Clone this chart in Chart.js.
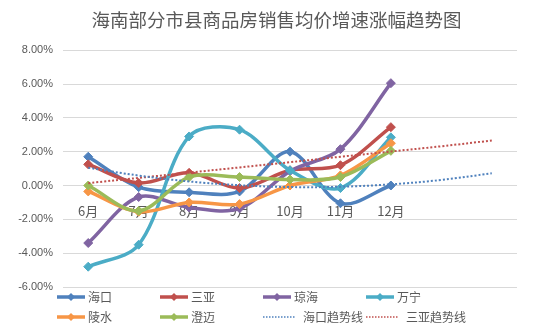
<!DOCTYPE html>
<html>
<head>
<meta charset="utf-8">
<script src="https://cdn.jsdelivr.net/npm/chart.js@4.4.1/dist/chart.umd.min.js"></script>
<style>
  html, body { margin: 0; padding: 0; background: #fff; }
  #wrap { width: 553px; height: 331px; position: relative; }
</style>
</head>
<body>
<div id="wrap"><canvas id="c"></canvas></div>
<script>
/***********************
 * DATA (%)
 ***********************/
const months = ["6月", "7月", "8月", "9月", "10月", "11月", "12月", "", ""];
const haikou   = [1.7, -0.1, -0.4, -0.35, 2.0, -1.05, 0.0];
const sanya    = [1.25, 0.15, 0.75, -0.15, 0.9, 1.2, 3.45];
const qionghai = [-3.4, -0.68, -1.3, -1.35, 0.85, 2.15, 6.05];
const wanning  = [-4.8, -3.5, 2.9, 3.3, 0.9, -0.15, 2.85];
const lingshui = [-0.35, -1.55, -1.0, -1.1, 0.0, 0.6, 2.5];
const chengmai = [0.0, -1.5, 0.5, 0.5, 0.35, 0.5, 2.05];
const haikouTrend = [1.05, 0.59, 0.24, 0.02, -0.09, -0.07, 0.07, 0.33, 0.72];
const sanyaTrend  = [0.14, 0.45, 0.76, 1.07, 1.38, 1.7, 2.01, 2.32, 2.66];

const yTicks = { min: -6, max: 8, step: 2 };

/***********************
 * STYLE
 ***********************/
const CJK = '"Microsoft YaHei","Noto Sans CJK SC",sans-serif';
const NUM = '"Liberation Sans Narrow","Liberation Sans",sans-serif';
const GRAY = "#595959";

function series(label, data, color, i) {
  return {
    label, data,
    borderColor: color, backgroundColor: color,
    borderWidth: 3.5, tension: 0.33,
    pointStyle: "rectRot", pointRadius: 4.5, pointBorderWidth: 1,
    order: 20 - i,
  };
}

function trend(label, data, color) {
  return {
    label, data,
    borderColor: color, backgroundColor: color,
    borderWidth: 2, borderDash: [2, 2], tension: 0.4,
    pointRadius: 0, order: 0,
  };
}

/***********************
 * LEGEND (Excel style grid)
 ***********************/
const legendGrid = {
  id: "legendGrid",
  afterDraw(chart) {
    const ctx = chart.ctx;
    const cols = [57, 160, 263, 366];
    const rows = [297, 317];
    ctx.save();
    ctx.font = "12px " + CJK;
    ctx.textBaseline = "middle";
    chart.data.datasets.forEach((ds, i) => {
      const r = Math.floor(i / 4), c = i % 4;
      const x = cols[c], y = rows[r];
      const isTrend = !!ds.borderDash;
      const len = isTrend ? 32 : 28;
      ctx.strokeStyle = ds.borderColor;
      ctx.lineWidth = isTrend ? 1.5 : 3.5;
      ctx.setLineDash(isTrend ? [1.5, 1.5] : []);
      ctx.beginPath();
      ctx.moveTo(x, y);
      ctx.lineTo(x + len, y);
      ctx.stroke();
      ctx.setLineDash([]);
      if (!isTrend) {
        ctx.fillStyle = ds.borderColor;
        ctx.beginPath();
        ctx.moveTo(x + len / 2, y - 4);
        ctx.lineTo(x + len / 2 + 4, y);
        ctx.lineTo(x + len / 2, y + 4);
        ctx.lineTo(x + len / 2 - 4, y);
        ctx.closePath();
        ctx.fill();
      }
      ctx.fillStyle = GRAY;
      ctx.fillText(ds.label, x + len + (isTrend ? 8 : 3), y);
    });
    ctx.restore();
  },
};

/***********************
 * CHART
 ***********************/
new Chart(document.getElementById("c"), {
  type: "line",
  data: {
    labels: months,
    datasets: [
      series("海口", haikou, "#4F81BD", 0),
      series("三亚", sanya, "#C0504D", 1),
      series("琼海", qionghai, "#8064A2", 2),
      series("万宁", wanning, "#4BACC6", 3),
      series("陵水", lingshui, "#F79646", 4),
      series("澄迈", chengmai, "#9BBB59", 5),
      trend("海口趋势线", haikouTrend, "#4F81BD"),
      trend("三亚趋势线", sanyaTrend, "#C0504D"),
    ],
  },
  options: {
    responsive: true,
    maintainAspectRatio: false,
    animation: false,
    layout: { padding: { left: 0, right: 0, top: 0, bottom: 44 } },
    plugins: {
      legend: { display: false },
      tooltip: { enabled: false },
      title: {
        display: true,
        text: "海南部分市县商品房销售均价增速涨幅趋势图",
        color: GRAY,
        font: { family: CJK, size: 18.5, weight: "normal" },
        padding: { top: 9, bottom: 19 },
      },
    },
    scales: {
      x: {
        position: { y: 0 },
        offset: true,
        grid: { display: false, drawTicks: false },
        border: { display: false },
        ticks: { color: GRAY, font: { family: CJK, size: 13 }, padding: 18, maxRotation: 0, autoSkip: false },
      },
      y: {
        min: yTicks.min, max: yTicks.max,
        grid: { color: "#D9D9D9", drawTicks: false },
        border: { display: false },
        afterFit: (s) => { s.width = 63; },
        ticks: {
          stepSize: yTicks.step, color: GRAY, padding: 10,
          font: { family: NUM, size: 11 },
          callback: (v) => v.toFixed(2) + "%",
        },
      },
      // empty right margin so the title stays centred on the canvas
      yRight: {
        position: "right",
        min: yTicks.min, max: yTicks.max,
        grid: { display: false, drawTicks: false },
        border: { display: false },
        ticks: { display: false },
        afterFit: (s) => { s.width = 36; },
      },
    },
  },
  plugins: [legendGrid],
});
</script>
</body>
</html>
